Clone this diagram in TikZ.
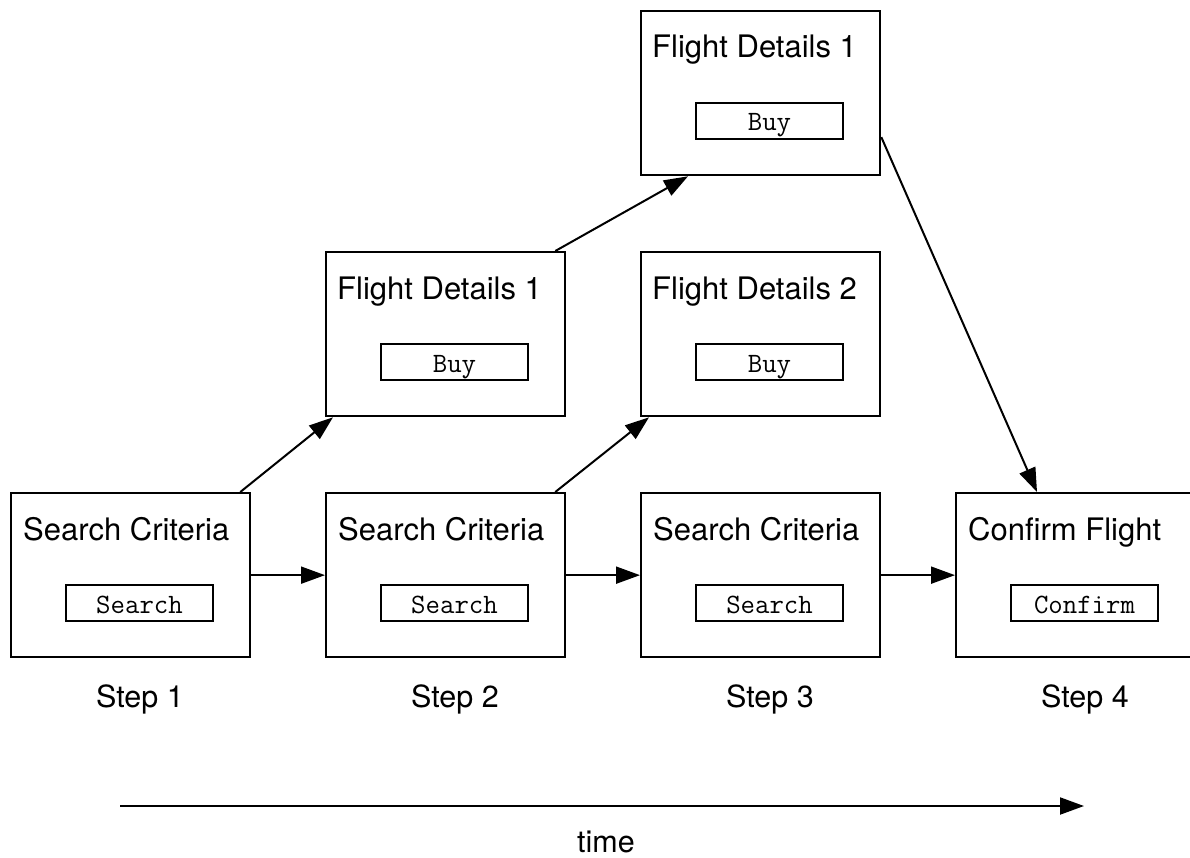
\documentclass[tikz,border=0pt]{standalone}
\usepackage{fontspec}
\setmainfont{TeX Gyre Heros}
\usetikzlibrary{arrows.meta}
\begin{document}
\begin{tikzpicture}[x=1pt,y=-1pt,
  screen/.style={draw=black, line width=2.3pt, rectangle, minimum width=239pt, minimum height=164pt, inner sep=0pt, anchor=north west},
  btn/.style={draw=black, line width=2pt, rectangle, minimum width=147pt, minimum height=36pt, inner sep=0pt, anchor=north west},
  ttl/.style={font=\fontsize{31}{36}\selectfont, anchor=base west, inner sep=0pt},
  btntxt/.style={font=\fontsize{28}{32}\ttfamily, anchor=base, inner sep=0pt},
  steplbl/.style={font=\fontsize{30.5}{36}\selectfont, anchor=base, inner sep=0pt},
  conn/.style={line width=2pt, -{Triangle[length=24pt,width=17pt]}}
]
\clip (0,0) rectangle (1190,858);
\fill[white] (0,0) rectangle (1190,858);

% screens
\node[screen] (s1) at (10,492) {};
\node[screen] (s2) at (325,492) {};
\node[screen] (s3) at (640,492) {};
\node[screen] (s4) at (955,492) {};
\node[screen] (f1) at (325,251) {};
\node[screen] (f2) at (640,251) {};
\node[screen] (t1) at (640,10) {};

% titles
\node[ttl] (s1t) at ([xshift=13pt,yshift=-48pt]s1.north west) {Search Criteria};
\node[ttl] (s2t) at ([xshift=13pt,yshift=-48pt]s2.north west) {Search Criteria};
\node[ttl] (s3t) at ([xshift=13pt,yshift=-48pt]s3.north west) {Search Criteria};
\node[ttl] (s4t) at ([xshift=13pt,yshift=-48pt]s4.north west) {Confirm Flight};
\node[ttl] (f1t) at ([xshift=12pt,yshift=-48pt]f1.north west) {Flight Details 1};
\node[ttl] (f2t) at ([xshift=12pt,yshift=-48pt]f2.north west) {Flight Details 2};
\node[ttl] (t1t) at ([xshift=12pt,yshift=-48pt]t1.north west) {Flight Details 1};

% buttons
\node[btn] (s1b) at ([xshift=55pt,yshift=-92pt]s1.north west) {};
\node[btn] (s2b) at ([xshift=55pt,yshift=-92pt]s2.north west) {};
\node[btn] (s3b) at ([xshift=55pt,yshift=-92pt]s3.north west) {};
\node[btn] (s4b) at ([xshift=55pt,yshift=-92pt]s4.north west) {};
\node[btn] (f1b) at ([xshift=55pt,yshift=-92pt]f1.north west) {};
\node[btn] (f2b) at ([xshift=55pt,yshift=-92pt]f2.north west) {};
\node[btn] (t1b) at ([xshift=55pt,yshift=-92pt]t1.north west) {};

\node[btntxt] (s1bt) at ([yshift=9pt]s1b.south) {Search};
\node[btntxt] (s2bt) at ([yshift=9pt]s2b.south) {Search};
\node[btntxt] (s3bt) at ([yshift=9pt]s3b.south) {Search};
\node[btntxt] (s4bt) at ([yshift=9pt]s4b.south) {Confirm};
\node[btntxt] (f1bt) at ([yshift=9pt]f1b.south) {Buy};
\node[btntxt] (f2bt) at ([yshift=9pt]f2b.south) {Buy};
\node[btntxt] (t1bt) at ([yshift=9pt]t1b.south) {Buy};

% step labels
\node[steplbl] (l1) at (140,707) {Step 1};
\node[steplbl] (l2) at (455,707) {Step 2};
\node[steplbl] (l3) at (770,707) {Step 3};
\node[steplbl] (l4) at (1085,707) {Step 4};

% connectors
\draw[conn] (s1.east) -- (s2.west);
\draw[conn] (s2.east) -- (s3.west);
\draw[conn] (s3.east) -- (s4.west);
\draw[conn] ([xshift=-11pt]s1.north east) -- ([xshift=8pt]f1.south west);
\draw[conn] ([xshift=-11pt]s2.north east) -- ([xshift=9pt]f2.south west);
\draw[conn] ([xshift=-11pt]f1.north east) -- ([xshift=48pt]t1.south west);
\draw[conn] ([yshift=-44pt]t1.east) -- ([xshift=82pt]s4.north west);

% time axis
\coordinate (ta) at (120,806);
\coordinate (tb) at (1084,806);
\draw[conn] (ta) -- (tb);
\node[steplbl] (time) at (606,852) {time};
\end{tikzpicture}
\end{document}
